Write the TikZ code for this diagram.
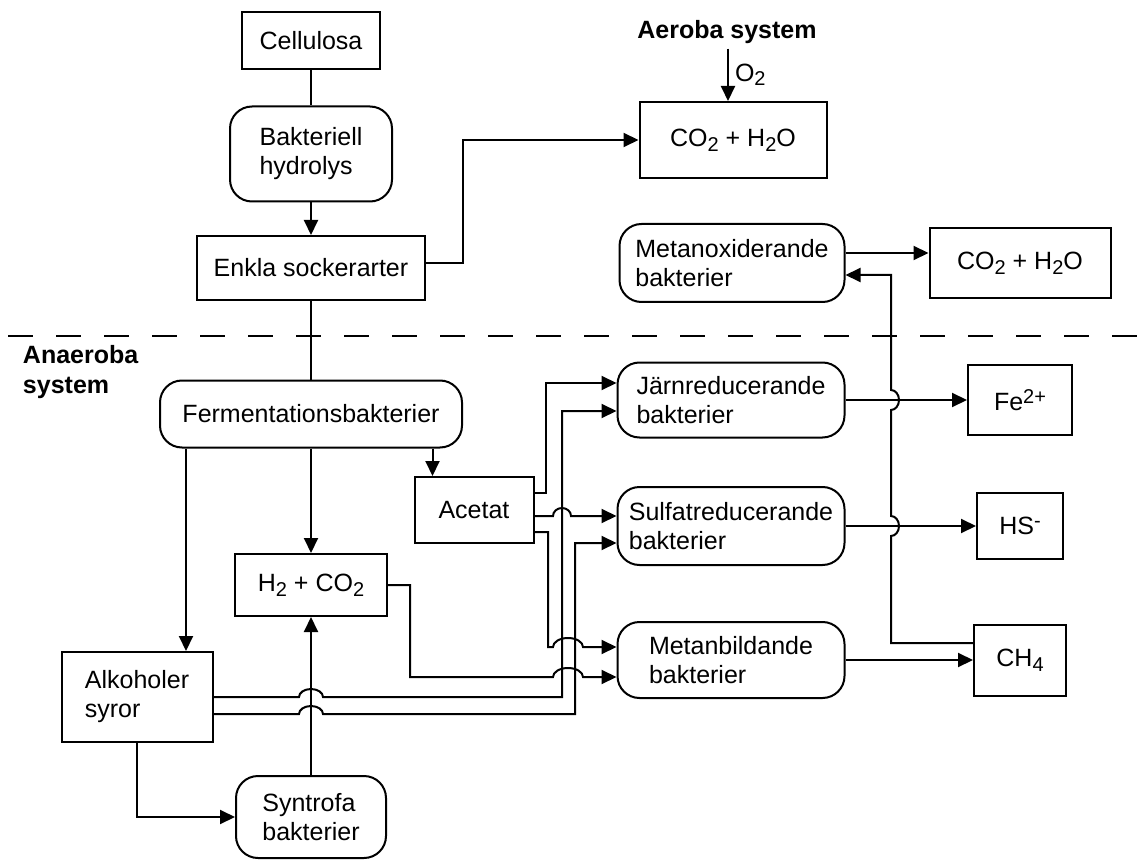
\documentclass[tikz,border=0pt]{standalone}
\usepackage{fontspec}
\setmainfont{Liberation Sans}
\usetikzlibrary{arrows.meta}
\newcommand{\subtxt}[1]{\raisebox{-0.35ex}{\fontsize{20}{20}\selectfont #1}}
\newcommand{\suptxt}[1]{\raisebox{0.55ex}{\fontsize{20}{20}\selectfont #1}}

\begin{document}
\begin{tikzpicture}[x=1pt, y=1pt, line width=2pt,
  font=\fontsize{25}{29}\selectfont,
  box/.style={draw, rectangle, inner sep=0pt, align=left},
  bact/.style={draw, rectangle, rounded corners=22pt, inner sep=0pt, align=left},
  arr/.style={-{Triangle[length=15pt,width=14pt]}},
  title/.style={font=\fontsize{25}{30}\selectfont\bfseries, align=left, inner sep=4pt}]
\useasboundingbox (0,0) rectangle (1137,-866);

% upper part
\node[box, minimum width=138pt, minimum height=57pt] (cell) at (311,-41) {Cellulosa};
\node[bact, minimum width=162pt, minimum height=95pt] (hydro) at (311,-154) {Bakteriell\\hydrolys};
\node[box, minimum width=228pt, minimum height=64pt] (enkla) at (311,-268) {Enkla sockerarter};
\node[title] (aerob) at (727,-32) {Aeroba system};
\node[box, minimum width=187pt, minimum height=76pt] (co2a) at (733,-140) {CO\subtxt{2} + H\subtxt{2}O};
\node[bact, minimum width=225pt, minimum height=78pt] (metox) at (732,-263) {Metanoxiderande\\bakterier};
\node[box, minimum width=181pt, minimum height=70pt] (co2b) at (1020,-263) {CO\subtxt{2} + H\subtxt{2}O};

\draw (8,-336) -- (1137,-336) [dash pattern=on 25pt off 23pt];

% lower part
\node[title, anchor=west] (anaerob) at (18,-372) {Anaeroba\\system};
\node[bact, minimum width=302pt, minimum height=67pt] (ferm) at (311,-414) {Fermentationsbakterier};
\node[box, minimum width=119pt, minimum height=66pt] (acetat) at (474,-510) {Acetat};
\node[box, minimum width=152pt, minimum height=62pt] (h2) at (311,-585) {H\subtxt{2} + CO\subtxt{2}};
\node[box, minimum width=151pt, minimum height=90pt] (alk) at (137,-697) {Alkoholer\\syror};
\node[bact, minimum width=150pt, minimum height=82pt] (syn) at (311,-817) {Syntrofa\\bakterier};
\node[bact, minimum width=227pt, minimum height=75pt] (jarn) at (731,-400) {Järnreducerande\\bakterier};
\node[bact, minimum width=227pt, minimum height=78pt] (sulf) at (731,-526) {Sulfatreducerande\\bakterier};
\node[bact, minimum width=227pt, minimum height=76pt] (metb) at (731,-660) {Metanbildande\\bakterier};
\node[box, minimum width=104pt, minimum height=70pt] (fe) at (1020,-400) {Fe\suptxt{2+}};
\node[box, minimum width=86pt, minimum height=66pt] (hs) at (1020,-526) {HS\suptxt{-}};
\node[box, minimum width=92pt, minimum height=71pt] (ch4) at (1020,-660) {CH\subtxt{4}};

\coordinate (o2) at ([xshift=-5pt]co2a.north);
\coordinate (fa) at ([xshift=27pt]ferm.south west);
\coordinate (acin) at ([xshift=19pt]acetat.north west);

\draw (cell) -- (hydro);
\draw[arr] (hydro) -- (enkla);
\draw[arr] ([yshift=5pt]enkla.east) -- (463,-263) |- (co2a.west);
\draw[arr] (o2 |- aerob.south) -- node[right, inner sep=6pt]{O\subtxt{2}} (o2);
\draw[arr] ([yshift=10pt]metox.east) -- ([yshift=10pt]co2b.west);
\draw[arr] ([yshift=17pt]ch4.west) -- (891,-643) -- (891,-536)
  arc[start angle=-90, end angle=90, x radius=8, y radius=10] -- (891,-410)
  arc[start angle=-90, end angle=90, x radius=8, y radius=10] -- (891,-275)
  -- ([yshift=-12pt]metox.east);

\draw (enkla) -- (ferm);
\draw[arr] (ferm) -- (h2);
\draw[arr] (fa) -- (fa |- alk.north);
\draw[arr] (ferm.south -| acin) -- (acin);
\draw[arr] (syn) -- (h2);
\draw[arr] (alk.south) |- (syn.west);

\draw[arr] ([yshift=17pt]acetat.east) -- (546,-493) |- ([yshift=17pt]jarn.west);
\draw[arr] ([yshift=-6pt]acetat.east) -- (553,-516)
  arc[start angle=180, end angle=0, x radius=9, y radius=8] -- ([yshift=10pt]sulf.west);
\draw[arr] ([yshift=-22pt]acetat.east) -- (548,-532) -- (548,-647) -- (553,-647)
  arc[start angle=180, end angle=0, x radius=15, y radius=9] -- ([yshift=13pt]metb.west);
\draw[arr] (h2.east) -- (410,-585) -- (410,-677) -- (553,-677)
  arc[start angle=180, end angle=0, x radius=15, y radius=9] -- ([yshift=-17pt]metb.west);
\draw[arr] (alk.east) -- (299,-697)
  arc[start angle=180, end angle=0, x radius=12, y radius=8] -- (562,-697)
  -- (562,-411) -- ([yshift=-11pt]jarn.west);
\draw[arr] ([yshift=-17pt]alk.east) -- (299,-714)
  arc[start angle=180, end angle=0, x radius=12, y radius=8] -- (575,-714)
  -- (575,-543) -- ([yshift=-17pt]sulf.west);

\draw[arr] (jarn) -- (fe);
\draw[arr] (sulf) -- (hs);
\draw[arr] (metb) -- (ch4);
\end{tikzpicture}
\end{document}
